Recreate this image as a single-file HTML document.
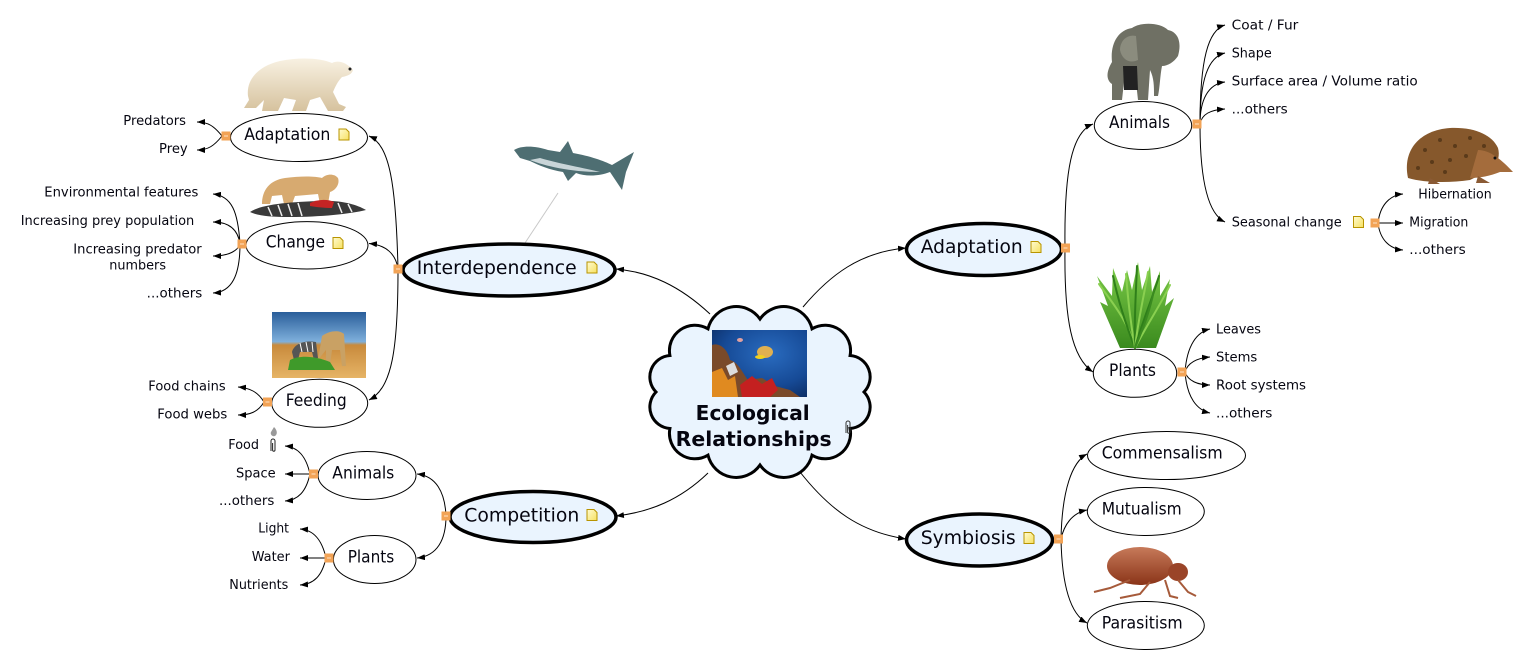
<!DOCTYPE html>
<html><head><meta charset="utf-8"><style>
html,body{margin:0;padding:0;background:#fff;}
svg{display:block;}
text{font-family:"DejaVu Sans","Liberation Sans",sans-serif;fill:#050510;}
.m{font-size:19px;}
.s{font-size:17px;}
.t{font-size:13px;}
.b{font-size:20px;font-weight:bold;}
.c{fill:none;stroke:#000;stroke-width:1;marker-end:url(#ar);}
.me{fill:#EAF4FE;stroke:#000;stroke-width:3.5;}
.se{fill:#fff;stroke:#000;stroke-width:1;}
</style></head><body>
<svg width="1529" height="664" viewBox="0 0 1529 664" xmlns="http://www.w3.org/2000/svg">
<defs>
<marker id="ar" markerWidth="8" markerHeight="6" refX="8" refY="3" orient="auto" markerUnits="userSpaceOnUse"><path d="M0,0 L8,3 L0,6 Z" fill="#000"/></marker>
<linearGradient id="note" x1="0" y1="0" x2="1" y2="1"><stop offset="0" stop-color="#fffbd0"/><stop offset="1" stop-color="#f6e060"/></linearGradient>
<radialGradient id="sea" cx="0.6" cy="0.35" r="0.8"><stop offset="0" stop-color="#2a6cc0"/><stop offset="0.6" stop-color="#164a96"/><stop offset="1" stop-color="#0b2a60"/></radialGradient>
<linearGradient id="sky" x1="0" y1="0" x2="0" y2="1"><stop offset="0" stop-color="#2a5e9a"/><stop offset="0.45" stop-color="#7fb0dc"/><stop offset="0.5" stop-color="#c88a3c"/><stop offset="1" stop-color="#e6b466"/></linearGradient>
<linearGradient id="bear" x1="0" y1="0" x2="0" y2="1"><stop offset="0" stop-color="#f8f1e2"/><stop offset="1" stop-color="#d6c29e"/></linearGradient>
<linearGradient id="flea" x1="0" y1="0" x2="0" y2="1"><stop offset="0" stop-color="#c77a5a"/><stop offset="1" stop-color="#8a3418"/></linearGradient>
<linearGradient id="grass" x1="0" y1="0" x2="0" y2="1"><stop offset="0" stop-color="#7ccc48"/><stop offset="1" stop-color="#3a8a1e"/></linearGradient>
<g id="ni"><path d="M0,0 H7 L10,3 V11 H0 Z" fill="url(#note)" stroke="#b89400" stroke-width="1"/></g>
</defs>

<!-- connectors from center -->
<path class="c" d="M710 314 C680 286 650 272 616 269"/>
<path class="c" d="M708 473 C680 500 650 512 616 516"/>
<path class="c" d="M803 307 C830 275 860 252 906 248"/>
<path class="c" d="M800 472 C830 510 860 532 906 539"/>

<!-- left side connectors -->
<path class="c" d="M398 269 C396 185 390 145 369 136"/>
<path class="c" d="M398 269 C396 254 386 245 369 243.5"/>
<path class="c" d="M398 269 C398 350 392 388 369 400"/>
<path class="c" d="M222 136 C214 126 208 122 197 122"/>
<path class="c" d="M222 136 C214 146 208 150 197 150"/>
<path class="c" d="M240 244 C238 212 232 196 213 194"/>
<path class="c" d="M240 244 C238 230 230 222 213 222"/>
<path class="c" d="M240 244 C238 250 230 256 213 256"/>
<path class="c" d="M240 244 C240 275 232 292 213 293"/>
<path class="c" d="M264 402 C258 392 250 388 238 387"/>
<path class="c" d="M264 402 C258 412 250 415 238 415"/>
<path class="c" d="M446 516 C445 492 436 476 417 474"/>
<path class="c" d="M446 516 C446 540 437 556 417 558"/>
<path class="c" d="M310 474 C306 456 298 447 285 446"/>
<path class="c" d="M310 474 L285 474"/>
<path class="c" d="M310 474 C306 492 298 500 285 501"/>
<path class="c" d="M326 558 C322 540 314 530 300 529"/>
<path class="c" d="M326 558 L300 558"/>
<path class="c" d="M326 558 C322 576 314 584 300 585"/>

<!-- right side connectors -->
<path class="c" d="M1065 248 C1064 170 1072 132 1093 124"/>
<path class="c" d="M1065 248 C1064 320 1072 358 1093 372"/>
<path class="c" d="M1200 124 C1200 60 1208 30 1225 25"/>
<path class="c" d="M1200 124 C1200 80 1208 57 1225 53"/>
<path class="c" d="M1200 124 C1200 100 1208 84 1225 82"/>
<path class="c" d="M1200 124 C1202 114 1210 110 1225 109"/>
<path class="c" d="M1200 124 C1200 180 1208 214 1225 222"/>
<path class="c" d="M1378 223 C1380 205 1390 195 1403 194"/>
<path class="c" d="M1378 223 L1403 223"/>
<path class="c" d="M1378 223 C1380 240 1390 249 1403 250"/>
<path class="c" d="M1185 372 C1187 345 1197 332 1210 329"/>
<path class="c" d="M1185 372 C1188 362 1198 358 1210 357"/>
<path class="c" d="M1185 372 C1188 381 1198 385 1210 385"/>
<path class="c" d="M1185 372 C1187 398 1197 410 1210 413"/>
<path class="c" d="M1061 539 C1062 490 1072 462 1087 454"/>
<path class="c" d="M1061 539 C1064 525 1072 513 1087 510"/>
<path class="c" d="M1061 539 C1062 590 1072 615 1087 623"/>

<!-- shark link -->
<line x1="525" y1="243" x2="558" y2="193" stroke="#c8c8c8" stroke-width="1"/>

<!-- central cloud -->
<path d="M864 392 A21.5 21.5 0 0 1 850.1 428.5 A25.5 25.5 0 0 1 812 455.2 A29 29 0 0 1 760 465 A29 29 0 0 1 708 455.2 A25.5 25.5 0 0 1 669.9 428.5 A21.5 21.5 0 0 1 656 392 A21.5 21.5 0 0 1 669.9 355.5 A25.5 25.5 0 0 1 708 328.8 A29 29 0 0 1 760 319 A29 29 0 0 1 812 328.8 A25.5 25.5 0 0 1 850.1 355.5 A21.5 21.5 0 0 1 864 392 Z" fill="#EAF4FE" stroke="#000" stroke-width="3"/>
<!-- center image -->
<rect x="712" y="330" width="95" height="67" fill="url(#sea)"/>
<path d="M712 345 C720 342 728 350 730 360 C738 362 742 372 748 380 L762 378 L775 386 L790 390 L800 397 L712 397 Z" fill="#7a4a2a"/>
<path d="M712 372 L722 368 L728 380 L735 376 L738 397 L712 397 Z" fill="#e08a20"/>
<path d="M740 385 L752 376 L762 384 L772 378 L778 390 L770 397 L742 397 Z" fill="#c42020"/>
<path d="M726 366 L734 362 L738 372 L730 376 Z" fill="#ddd"/>
<ellipse cx="765" cy="352" rx="8" ry="6" fill="#e0b050"/>
<ellipse cx="760" cy="357" rx="5" ry="2" fill="#f0d020"/>
<ellipse cx="740" cy="340" rx="3" ry="2" fill="#e0a0a0"/>
<text class="b" x="695.7" y="420" textLength="114" lengthAdjust="spacingAndGlyphs">Ecological</text>
<text class="b" x="675.7" y="446" textLength="156" lengthAdjust="spacingAndGlyphs">Relationships</text>
<path d="M846 433 V423 a2 2 0 0 1 4 0 V432 a1.2 1.2 0 0 1 -2.4 0 V425" fill="none" stroke="#333" stroke-width="1"/>

<!-- main nodes -->
<ellipse class="me" cx="509" cy="270" rx="106" ry="26"/>
<text class="m" x="416.7" y="274" textLength="160" lengthAdjust="spacingAndGlyphs">Interdependence</text>
<use href="#ni" x="587" y="262"/>
<ellipse class="me" cx="533" cy="517" rx="83" ry="25.5"/>
<text class="m" x="464.3" y="521.5" textLength="115" lengthAdjust="spacingAndGlyphs">Competition</text>
<use href="#ni" x="587" y="509.5"/>
<ellipse class="me" cx="984" cy="249.5" rx="77.5" ry="26"/>
<text class="m" x="920.7" y="253" textLength="102" lengthAdjust="spacingAndGlyphs">Adaptation</text>
<use href="#ni" x="1031" y="241.5"/>
<ellipse class="me" cx="979.5" cy="540" rx="73" ry="26"/>
<text class="m" x="920.7" y="544" textLength="95" lengthAdjust="spacingAndGlyphs">Symbiosis</text>
<use href="#ni" x="1024" y="532.5"/>

<!-- secondary nodes -->
<ellipse class="se" cx="299" cy="137.5" rx="68.5" ry="24"/>
<text class="s" x="244.3" y="140" textLength="86" lengthAdjust="spacingAndGlyphs">Adaptation</text>
<use href="#ni" x="339" y="129"/>
<ellipse class="se" cx="307" cy="245.3" rx="61" ry="23.7"/>
<text class="s" x="265.7" y="247.7" textLength="59.3" lengthAdjust="spacingAndGlyphs">Change</text>
<use href="#ni" x="333" y="237.5"/>
<ellipse class="se" cx="319.7" cy="403.3" rx="48" ry="24"/>
<text class="s" x="285.7" y="406" textLength="61" lengthAdjust="spacingAndGlyphs">Feeding</text>
<ellipse class="se" cx="367" cy="475.5" rx="49" ry="24"/>
<text class="s" x="332.3" y="478.3" textLength="62" lengthAdjust="spacingAndGlyphs">Animals</text>
<ellipse class="se" cx="374.7" cy="559.5" rx="41.3" ry="24"/>
<text class="s" x="347.7" y="562.7" textLength="46.6" lengthAdjust="spacingAndGlyphs">Plants</text>
<ellipse class="se" cx="1143" cy="125.5" rx="48.7" ry="24"/>
<text class="s" x="1109" y="128" textLength="61" lengthAdjust="spacingAndGlyphs">Animals</text>
<ellipse class="se" cx="1135" cy="373.3" rx="41.7" ry="24"/>
<text class="s" x="1109" y="376" textLength="47" lengthAdjust="spacingAndGlyphs">Plants</text>
<ellipse class="se" cx="1166.5" cy="455.5" rx="79" ry="24"/>
<text class="s" x="1101.7" y="458.3" textLength="121" lengthAdjust="spacingAndGlyphs">Commensalism</text>
<ellipse class="se" cx="1145.8" cy="511.5" rx="58.5" ry="24"/>
<text class="s" x="1101.7" y="514.3" textLength="80" lengthAdjust="spacingAndGlyphs">Mutualism</text>
<ellipse class="se" cx="1145.8" cy="625.5" rx="58.5" ry="24"/>
<text class="s" x="1101.7" y="628.3" textLength="81" lengthAdjust="spacingAndGlyphs">Parasitism</text>

<!-- small labels left -->
<text class="t" x="123.3" y="125" textLength="62.7" lengthAdjust="spacingAndGlyphs">Predators</text>
<text class="t" x="159" y="153" textLength="28.7" lengthAdjust="spacingAndGlyphs">Prey</text>
<text class="t" x="44.3" y="196.7" textLength="154" lengthAdjust="spacingAndGlyphs">Environmental features</text>
<text class="t" x="20.7" y="225" textLength="173.6" lengthAdjust="spacingAndGlyphs">Increasing prey population</text>
<text class="t" x="73.3" y="253.3" textLength="128.4" lengthAdjust="spacingAndGlyphs">Increasing predator</text>
<text class="t" x="109.3" y="269.3" textLength="56.7" lengthAdjust="spacingAndGlyphs">numbers</text>
<text class="t" x="146.7" y="297.7" textLength="55.6" lengthAdjust="spacingAndGlyphs">...others</text>
<text class="t" x="148.3" y="390.7" textLength="77.4" lengthAdjust="spacingAndGlyphs">Food chains</text>
<text class="t" x="157.3" y="418.7" textLength="70" lengthAdjust="spacingAndGlyphs">Food webs</text>
<text class="t" x="228.3" y="449" textLength="30.7" lengthAdjust="spacingAndGlyphs">Food</text>
<path d="M271 451 V441 a2 2 0 0 1 4 0 V450 a1.2 1.2 0 0 1 -2.4 0 V443" fill="none" stroke="#222" stroke-width="1"/>
<path d="M274 427 C277 430 278 434 275 436 C272 437 270 434 271 432 Z" fill="#999"/>
<text class="t" x="236" y="477.3" textLength="39.7" lengthAdjust="spacingAndGlyphs">Space</text>
<text class="t" x="219" y="505" textLength="55.3" lengthAdjust="spacingAndGlyphs">...others</text>
<text class="t" x="258.3" y="532.7" textLength="30.7" lengthAdjust="spacingAndGlyphs">Light</text>
<text class="t" x="251.7" y="561" textLength="38.3" lengthAdjust="spacingAndGlyphs">Water</text>
<text class="t" x="229.3" y="589" textLength="59" lengthAdjust="spacingAndGlyphs">Nutrients</text>

<!-- small labels right -->
<text class="t" x="1231.7" y="29.3" textLength="66.6" lengthAdjust="spacingAndGlyphs">Coat / Fur</text>
<text class="t" x="1231.7" y="57.3" textLength="40" lengthAdjust="spacingAndGlyphs">Shape</text>
<text class="t" x="1231.7" y="85.3" textLength="186" lengthAdjust="spacingAndGlyphs">Surface area / Volume ratio</text>
<text class="t" x="1231.7" y="113.3" textLength="56" lengthAdjust="spacingAndGlyphs">...others</text>
<text class="t" x="1231.7" y="226.7" textLength="110" lengthAdjust="spacingAndGlyphs">Seasonal change</text>
<use href="#ni" x="1353.5" y="216.5"/>
<text class="t" x="1418.3" y="198.3" textLength="73.4" lengthAdjust="spacingAndGlyphs">Hibernation</text>
<text class="t" x="1409.3" y="226.7" textLength="59" lengthAdjust="spacingAndGlyphs">Migration</text>
<text class="t" x="1409.3" y="254" textLength="56.4" lengthAdjust="spacingAndGlyphs">...others</text>
<text class="t" x="1216" y="333.3" textLength="45" lengthAdjust="spacingAndGlyphs">Leaves</text>
<text class="t" x="1216" y="361.3" textLength="41.3" lengthAdjust="spacingAndGlyphs">Stems</text>
<text class="t" x="1216" y="389.3" textLength="90" lengthAdjust="spacingAndGlyphs">Root systems</text>
<text class="t" x="1216" y="417.3" textLength="56.3" lengthAdjust="spacingAndGlyphs">...others</text>

<!-- orange collapse squares -->
<g fill="#F2A356">
<rect x="393.5" y="264.5" width="9" height="9"/>
<rect x="441.5" y="511.5" width="9" height="9"/>
<rect x="1061" y="243.5" width="9" height="9"/>
<rect x="1054" y="534.5" width="9" height="9"/>
<rect x="221.5" y="131.5" width="9" height="9"/>
<rect x="237.5" y="239.5" width="9" height="9"/>
<rect x="263" y="397.5" width="9" height="9"/>
<rect x="309" y="469.5" width="9" height="9"/>
<rect x="324.5" y="553.5" width="9" height="9"/>
<rect x="1192.5" y="119.5" width="9" height="9"/>
<rect x="1370.5" y="218.5" width="9" height="9"/>
<rect x="1177.5" y="367.5" width="9" height="9"/>
</g>
<g stroke="#FDE3C6" stroke-width="1">
<line x1="396" y1="269" x2="400" y2="269"/>
<line x1="444" y1="516" x2="448" y2="516"/>
<line x1="1063.5" y1="248" x2="1067.5" y2="248"/>
<line x1="1056.5" y1="539" x2="1060.5" y2="539"/>
<line x1="224" y1="136" x2="228" y2="136"/>
<line x1="240" y1="244" x2="244" y2="244"/>
<line x1="265.5" y1="402" x2="269.5" y2="402"/>
<line x1="311.5" y1="474" x2="315.5" y2="474"/>
<line x1="327" y1="558" x2="331" y2="558"/>
<line x1="1195" y1="124" x2="1199" y2="124"/>
<line x1="1373" y1="223" x2="1377" y2="223"/>
<line x1="1180" y1="372" x2="1184" y2="372"/>
</g>

<!-- polar bear -->
<path d="M248 96 C246 80 258 66 280 61 C300 57 320 58 332 63 C338 60 346 62 353 70 C352 74 348 76 342 77 C338 81 335 87 333 92 L339 104 L346 107 L343 111 L328 111 L320 97 L310 100 L306 111 L292 111 L296 100 L284 98 L278 111 L262 111 L264 100 L256 108 L244 108 L249 100 Z" fill="url(#bear)"/>
<circle cx="350" cy="69" r="1.5" fill="#222"/>

<!-- lion + zebra -->
<path d="M262 204 C262 190 270 180 285 178 C300 176 315 176 322 178 C326 174 334 173 338 178 C340 184 336 190 330 192 L328 204 L320 204 L318 194 L295 196 L292 204 L284 204 L282 195 L272 196 L270 204 Z" fill="#d7aa70"/>
<path d="M250 212 C262 204 290 202 320 201 C340 200 356 204 366 210 C350 214 320 217 290 217 C272 217 258 216 250 212 Z" fill="#3a3a3a"/>
<g stroke="#eee" stroke-width="1.5"><line x1="268" y1="207" x2="272" y2="216"/><line x1="278" y1="205" x2="282" y2="216"/><line x1="288" y1="204" x2="292" y2="216"/><line x1="298" y1="203" x2="302" y2="216"/><line x1="338" y1="203" x2="342" y2="213"/><line x1="348" y1="204" x2="352" y2="212"/></g>
<path d="M310 203 C318 199 328 199 334 202 L332 208 C324 208 316 207 310 206 Z" fill="#c42424"/>

<!-- shark -->
<path d="M514 150 C522 145 536 146 548 150 L560 152 L568 141 L573 153 C590 156 604 161 612 165 L634 152 L626 172 L622 190 L610 172 C600 176 586 177 576 173 L568 181 L563 172 C550 170 538 165 530 161 L520 158 Z" fill="#4e6e72"/>
<path d="M530 160 C545 166 570 172 600 172 C585 168 560 164 540 158 Z" fill="#c9d5d8"/>

<!-- feeding image -->
<rect x="272" y="312" width="94" height="66" fill="url(#sky)"/>
<path d="M292 352 C294 344 304 340 316 342 L318 358 L314 360 L312 352 L300 352 L298 360 L294 360 Z" fill="#555"/>
<g stroke="#fff" stroke-width="1"><line x1="300" y1="343" x2="302" y2="352"/><line x1="306" y1="342" x2="308" y2="352"/><line x1="312" y1="342" x2="313" y2="352"/></g>
<path d="M322 336 C330 330 340 330 344 334 L346 366 L342 366 L340 350 L332 350 L330 366 L326 366 L326 350 L318 360 Z" fill="#c9a164"/>
<path d="M290 360 C300 355 315 356 330 362 L335 370 L288 370 Z" fill="#3f9a2a"/>

<!-- elephant -->
<path d="M1112 62 C1110 44 1118 30 1132 28 C1140 22 1160 22 1168 30 C1178 32 1182 42 1178 56 C1174 62 1168 66 1162 66 C1160 76 1160 86 1158 96 L1154 96 C1154 86 1154 78 1150 70 L1148 100 L1138 100 L1136 82 L1124 82 L1122 100 L1112 100 L1112 84 C1106 80 1106 72 1112 62 Z" fill="#6f7064"/>
<path d="M1120 50 C1120 40 1128 34 1136 36 L1138 60 C1130 64 1122 60 1120 50 Z" fill="#8b8c7e"/>
<path d="M1123 66 L1137 66 L1138 90 L1124 90 Z" fill="#222"/>

<!-- hedgehog -->
<path d="M1408 178 C1402 150 1420 130 1450 128 C1475 127 1492 135 1498 148 C1500 155 1498 162 1494 168 L1470 180 C1450 183 1425 183 1408 178 Z" fill="#86582c"/>
<path d="M1478 150 C1490 150 1502 160 1513 172 L1500 172 C1490 176 1480 178 1470 178 Z" fill="#a46c3c"/>
<g fill="#5a3a1a">
<circle cx="1425" cy="150" r="2"/><circle cx="1440" cy="140" r="2"/><circle cx="1455" cy="146" r="2"/><circle cx="1470" cy="138" r="2"/><circle cx="1432" cy="162" r="2"/><circle cx="1450" cy="160" r="2"/><circle cx="1466" cy="156" r="2"/><circle cx="1418" cy="168" r="2"/><circle cx="1484" cy="146" r="2"/><circle cx="1445" cy="172" r="2"/>
</g>
<circle cx="1495" cy="158" r="1.5" fill="#111"/>
<path d="M1430 178 L1428 184 L1440 184 Z M1478 176 L1476 183 L1490 183 Z" fill="#8a5a34"/>

<!-- grass -->
<path d="M1120 348 L1100 302 L1108 306 L1097 276 L1112 296 L1113 268 L1122 292 L1127 270 L1132 290 L1138 262 L1142 290 L1150 266 L1152 292 L1160 271 L1160 296 L1170 279 L1165 306 L1174 298 L1156 348 Z" fill="url(#grass)"/>
<g fill="none" stroke-width="2" stroke-linecap="round">
<path d="M1135 348 C1128 320 1110 300 1099 284" stroke="#8ad050"/>
<path d="M1135 348 C1126 325 1118 300 1113 276" stroke="#2f7f1a"/>
<path d="M1135 348 C1130 320 1128 298 1126 274" stroke="#8ad050"/>
<path d="M1135 348 C1134 318 1136 292 1137 266" stroke="#2f7f1a"/>
<path d="M1135 348 C1138 320 1144 296 1148 272" stroke="#8ad050"/>
<path d="M1135 348 C1142 322 1152 300 1159 276" stroke="#2f7f1a"/>
<path d="M1135 348 C1146 326 1160 306 1170 285" stroke="#8ad050"/>
<path d="M1135 348 C1144 326 1150 310 1154 290" stroke="#3a8a20"/>
</g>

<!-- flea -->
<ellipse cx="1140" cy="566" rx="33" ry="19" fill="url(#flea)"/>
<ellipse cx="1178" cy="572" rx="10" ry="9" fill="#9a4428"/>
<g stroke="#a65a3a" stroke-width="2" fill="none">
<path d="M1130 580 L1110 588 L1094 592"/>
<path d="M1150 582 L1140 594 L1120 598"/>
<path d="M1165 580 L1170 596 L1178 598"/>
<path d="M1178 580 L1188 592 L1196 596"/>
</g>
</svg>
</body></html>
